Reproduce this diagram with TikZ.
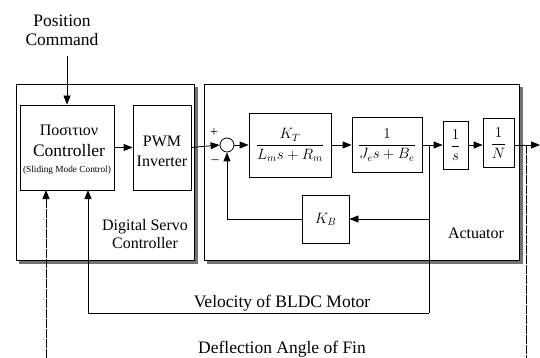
\RequirePackage{fix-cm}
\documentclass[tikz,border=0pt]{standalone}
\usepackage{amsmath}
\usepackage{fontspec}
\setmainfont{Liberation Serif}
\usetikzlibrary{arrows.meta}
\begin{document}
\begin{tikzpicture}[x=1pt,y=-1pt,
  >={Triangle[length=9pt,width=7pt]},
  line width=0.8pt,
  blk/.style={draw, line width=0.8pt, inner sep=0pt, align=center},
  txt/.style={inner sep=0pt, align=center},
  big/.style={font=\fontsize{17.5}{20}\selectfont},
  mid/.style={font=\fontsize{16}{19}\selectfont},
  mathf/.style={font=\fontsize{15}{18}\selectfont},
  defl/.style={dash pattern=on 9pt off 1pt},
  shade/.style={fill=black!55}]
\useasboundingbox (0,0) rectangle (540,358);
% outer frames with shadows
\fill[shade] (19,87) rectangle (197.5,263.5);
\draw[fill=white] (16,84) rectangle (194,260);
\fill[shade] (207,87) rectangle (522.5,263.5);
\draw[fill=white] (204,84) rectangle (519,260);
% blocks
\node[blk, minimum width=94pt, minimum height=85pt] (ctrl) at (67,147.5) {};
\node[txt, font=\fontsize{16}{19}\selectfont] (ctrlA) at (69,130) {Ποσιτιον};
\node[txt, big] (ctrlB) at (69,151) {Controller};
\node[txt, font=\fontsize{9.3}{11}\selectfont] (ctrlC) at (67,170) {(Sliding Mode Control)};
\node[blk, minimum width=58pt, minimum height=85pt] (pwm) at (162,147.5) {};
\node[txt, mid] (pwmA) at (162,141) {PWM};
\node[txt, mid] (pwmB) at (162,161) {Inverter};
\node[draw, circle, minimum size=14pt, inner sep=0pt] (sum) at (227,145) {};
\node[txt, font=\fontsize{14}{16}\selectfont] (plus) at (214,133) {+};
\node[txt, font=\fontsize{14}{16}\selectfont] (minus) at (215,162) {\textendash};
\node[blk, mathf, minimum width=82pt, minimum height=64pt] (kt) at (290,145) {$\dfrac{K_T}{L_m s+R_m}$};
\node[blk, mathf, minimum width=70pt, minimum height=55pt] (je) at (387,145) {$\dfrac{1}{J_e s+B_e}$};
\node[blk, mathf, minimum width=25pt, minimum height=48pt] (s1) at (455.5,145) {$\dfrac{1}{s}$};
\node[blk, mathf, minimum width=31pt, minimum height=49pt] (nn) at (498.5,143) {$\dfrac{1}{N}$};
\node[blk, mathf, minimum width=47pt, minimum height=48pt] (kb) at (325.5,219) {$K_B$};
% labels
\node[txt, big] (pos) at (62,30) {Position\\[-1pt]Command};
\node[txt, mid] (dsc) at (145,234) {Digital Servo\\[-1pt]Controller};
\node[txt, mid] (act) at (476,233) {Actuator};
\node[txt, big] (vlab) at (282,303) {Velocity of BLDC Motor};
\node[txt, big] (dlab) at (282,349) {Deflection Angle of Fin};
% coordinates
\coordinate (pc) at (67,56);
\coordinate (br) at (429,145);
\coordinate (kbt) at (429,219);
\coordinate (vbot) at (429,313);
\coordinate (vin) at (88,190);
\coordinate (out) at (540,145);
\coordinate (dtap) at (526,145);
\coordinate (dr) at (526,358);
\coordinate (dl) at (46,358);
\coordinate (din) at (46,190);
% connectors
\draw[->] (pc) -- (ctrl.north);
\draw[->] (ctrl.east) -- (pwm.west);
\draw[->] (pwm.east) -- (sum.west);
\draw[->] (sum.east) -- (kt.west);
\draw[->] (kt.east) -- (je.west);
\draw[->] (je.east) -- (s1.west);
\draw[->] (s1.east) -- (s1.east -| nn.west);
\draw[->] (nn.east |- out) -- (out);
\draw (br) -- (vbot);
\draw[->] (vbot) -| (vin);
\draw[->] (kbt) -- (kb.east);
\draw[->] (kb.west) -| (sum.south);
\draw[defl] (dtap) -- (dr);
\draw[defl,->] (dl) -- (din);
\end{tikzpicture}
\end{document}
